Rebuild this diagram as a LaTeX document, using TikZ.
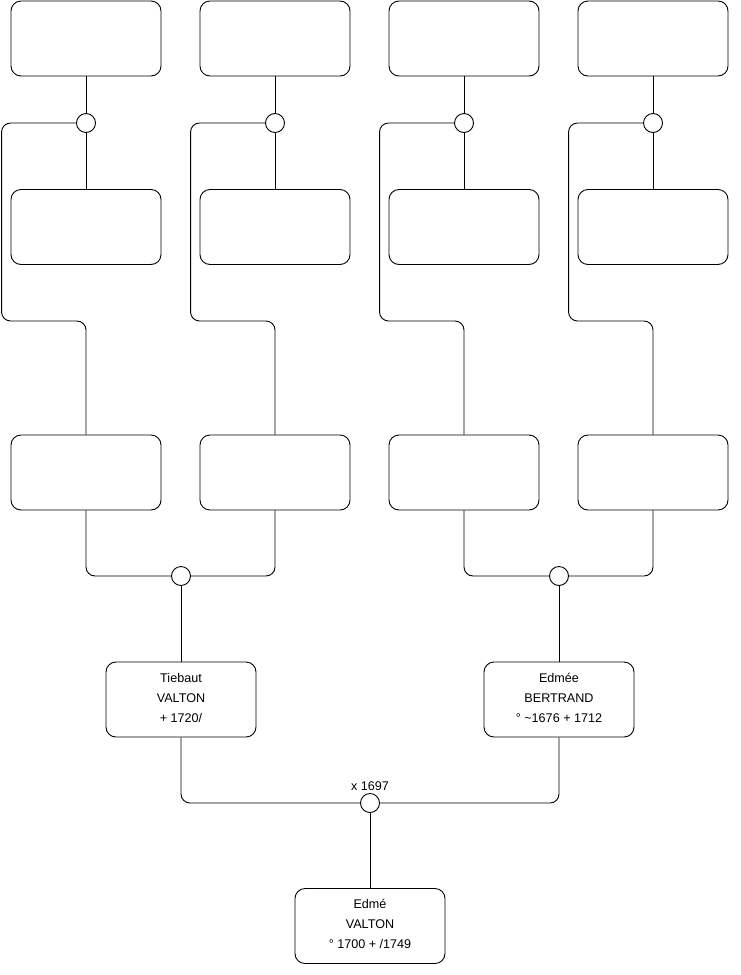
\documentclass[tikz,border=0pt]{standalone}
\usepackage{fontspec}
\setmainfont{Liberation Sans}
\begin{document}
\begin{tikzpicture}[x=1pt,y=-1pt,line width=0.9pt,
  pbox/.style={draw,rounded corners=10pt,minimum width=150pt,minimum height=75pt,inner sep=0pt,align=center,font=\fontsize{12.6}{20}\selectfont},
  knot/.style={draw,circle,minimum size=19pt,inner sep=0pt,fill=white},
  link/.style={draw,rounded corners=9pt}]
\useasboundingbox (0,0) rectangle (740,975);
\foreach \i/\x in {1/86,2/275,3/464,4/653}{
  \node[pbox] (a\i) at (\x,38.5) {};
  \node[pbox] (b\i) at (\x,227) {};
  \node[pbox] (c\i) at (\x,472.5) {};
  \node[knot] (k\i) at (\x,123) {};
  \draw (a\i.south) -- (k\i.north);
  \draw (k\i.south) -- (b\i.north);
  \draw[link] (k\i.west) -- ++(-74.5,0) -- ++(0,198) -| (c\i.north);
}
\node[knot] (m1) at (181,576) {};
\node[knot] (m2) at (559,576) {};
\node[knot] (m3) at (370,803) {};
\draw[link] (c1.south) |- (m1.west);
\draw[link] (c2.south) |- (m1.east);
\draw[link] (c3.south) |- (m2.west);
\draw[link] (c4.south) |- (m2.east);
\node[pbox] (p1) at (181,699.5) {Tiebaut\\VALTON\\ + 1720/\rule[-4pt]{0pt}{1pt}};
\node[pbox] (p2) at (559,699.5) {Edmée\\BERTRAND\\° \textasciitilde1676 + 1712\rule[-4pt]{0pt}{1pt}};
\node[pbox] (p3) at (370,926) {Edmé\\VALTON\\° 1700 + /1749\rule[-4pt]{0pt}{1pt}};
\draw (m1.south) -- (p1.north);
\draw (m2.south) -- (p2.north);
\draw (m3.south) -- (p3.north);
\draw[link] (p1.south) |- (m3.west);
\draw[link] (p2.south) |- (m3.east);
\node[font=\fontsize{12.6}{14}\selectfont,anchor=south,inner sep=2pt] (lx) at (m3.north) {x 1697};
\end{tikzpicture}
\end{document}
